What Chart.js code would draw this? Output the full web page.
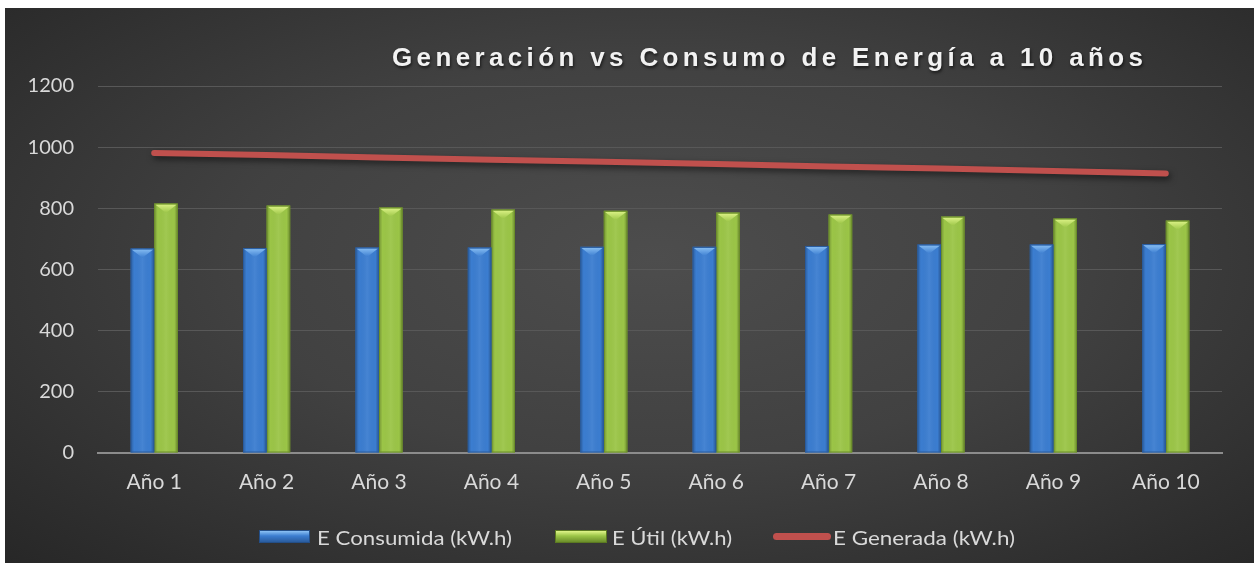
<!DOCTYPE html>
<html>
<head>
<meta charset="utf-8">
<script src="https://cdn.jsdelivr.net/npm/chart.js@4.4.1/dist/chart.umd.min.js"></script>
<style>
  html, body { margin:0; padding:0; background:#ffffff; width:1259px; height:570px; overflow:hidden; }
  #frame { position:absolute; left:5px; top:8px; width:1249px; height:555px;
    background: radial-gradient(ellipse 75% 80% at 52% 45%, #4d4d4d 0%, #414141 45%, #2d2d2d 85%, #262626 100%); }
  #c { position:absolute; left:0; top:0; }
  #legend { position:absolute; left:0; top:0; width:1249px; height:555px; pointer-events:none;
    font-family: Lato, "Open Sans", sans-serif; font-size:20px; color:#d9d9d9; }
  .li { position:absolute; top:516px; height:26px; line-height:26px; white-space:nowrap; }
  .bx { position:absolute; }
  .tx { position:absolute; top:0; display:inline-block; transform-origin:left center; }
</style>
</head>
<body>
<div id="frame">
  <canvas id="c" width="1249" height="555"></canvas>
  <div id="legend"></div>
</div>
<script>
const categories = ["Año 1","Año 2","Año 3","Año 4","Año 5","Año 6","Año 7","Año 8","Año 9","Año 10"];
const eConsumida = [669, 670, 672, 672, 674, 674, 677, 682, 682, 683];
const eUtil      = [816, 809, 803, 796, 792, 786, 780, 773, 767, 760];
const eGenerada  = [981, 974, 966, 959, 952, 945, 937, 930, 922, 914];
const yTicks = [0, 200, 400, 600, 800, 1000, 1200];
const seriesNames = ["E Consumida (kW.h)", "E Útil (kW.h)", "E Generada (kW.h)"];
const titleText = "Generación vs Consumo de Energía a 10 años";

const BLUE = "#3b7dd0", BLUE_D = "#2a5c9e", BLUE_L = "#8cc2f5";
const GREEN = "#9bc547", GREEN_D = "#6b8e2a", GREEN_L = "#e0f58a";
const RED = "#c0504d";

const bevelPlugin = {
  id: 'bevel',
  afterDatasetDraw(chart, args) {
    const meta = args.meta;
    if (meta.type !== 'bar') return;
    const ctx = chart.ctx;
    const dark = args.index === 0 ? BLUE_D : GREEN_D;
    const light = args.index === 0 ? BLUE_L : GREEN_L;
    const base_c = args.index === 0 ? BLUE : GREEN;
    meta.data.forEach(el => {
      const w = el.width, x0 = el.x - w/2, x1 = el.x + w/2, top = el.y, base = el.base;
      ctx.save();
      const g = ctx.createLinearGradient(x0, 0, x1, 0);
      g.addColorStop(0, 'rgba(0,0,0,0.25)');
      g.addColorStop(0.15, 'rgba(0,0,0,0.0)');
      g.addColorStop(0.5, 'rgba(255,255,255,0.06)');
      g.addColorStop(0.85, 'rgba(0,0,0,0.0)');
      g.addColorStop(1, 'rgba(0,0,0,0.3)');
      ctx.fillStyle = g;
      ctx.fillRect(x0, top, w, base - top);
      const h = w * 0.4;
      const tg = ctx.createLinearGradient(0, top, 0, top + h);
      tg.addColorStop(0, light);
      tg.addColorStop(1, base_c);
      ctx.fillStyle = tg;
      ctx.beginPath();
      ctx.moveTo(x0 + 1, top + 1);
      ctx.lineTo(x1 - 1, top + 1);
      ctx.lineTo(el.x, top + h);
      ctx.closePath();
      ctx.fill();
      ctx.strokeStyle = dark;
      ctx.lineWidth = 1;
      ctx.strokeRect(x0 + 0.5, top + 0.5, w - 1, base - top - 1);
      ctx.restore();
    });
  }
};

const shadowPlugin = {
  id: 'lineShadow',
  beforeDatasetDraw(chart, args) {
    if (args.meta.type === 'line') {
      const ctx = chart.ctx;
      ctx.save();
      ctx.shadowColor = 'rgba(0,0,0,0.55)';
      ctx.shadowBlur = 6;
      ctx.shadowOffsetX = 2;
      ctx.shadowOffsetY = 3;
    }
  },
  afterDatasetDraw(chart, args) {
    if (args.meta.type === 'line') chart.ctx.restore();
  }
};

const titlePlugin = {
  id: 'customTitle',
  afterDraw(chart) {
    const ctx = chart.ctx;
    ctx.save();
    ctx.font = 'bold 26px "Liberation Sans", Arial, sans-serif';
    ctx.letterSpacing = '0px';
    const w0 = ctx.measureText(titleText).width;
    const target = 751;
    const sp = (target - w0) / (titleText.length - 1);
    ctx.letterSpacing = sp.toFixed(2) + 'px';
    ctx.fillStyle = '#f2f2f2';
    ctx.textBaseline = 'alphabetic';
    ctx.textAlign = 'left';
    ctx.shadowColor = 'rgba(0,0,0,0.6)';
    ctx.shadowBlur = 3;
    ctx.shadowOffsetX = 1;
    ctx.shadowOffsetY = 2;
    ctx.fillText(titleText, 387, 58);
    ctx.restore();
  }
};

const chart = new Chart(document.getElementById('c'), {
  type: 'bar',
  data: {
    labels: categories,
    datasets: [
      { label: seriesNames[0], data: eConsumida, backgroundColor: BLUE, borderWidth: 0,
        categoryPercentage: 0.42, barPercentage: 1.0, order: 1 },
      { label: seriesNames[1], data: eUtil, backgroundColor: GREEN, borderWidth: 0,
        categoryPercentage: 0.42, barPercentage: 1.0, order: 1 },
      { type: 'line', label: seriesNames[2], data: eGenerada, borderColor: RED, backgroundColor: RED,
        borderWidth: 6, pointRadius: 0, borderCapStyle: 'round', tension: 0, order: 0 }
    ]
  },
  options: {
    responsive: false,
    animation: false,
    devicePixelRatio: 1,
    layout: { padding: { left: 0, right: 32, top: 78, bottom: 0 } },
    plugins: {
      legend: { display: false },
      title: { display: false },
      tooltip: { enabled: false }
    },
    scales: {
      x: {
        grid: { display: false, drawTicks: false },
        border: { display: true, color: '#8c8c8c', width: 2 },
        ticks: { color: '#d9d9d9', font: { family: 'Lato, "Open Sans", sans-serif', size: 21 }, padding: 17, maxRotation: 0 },
        afterFit: s => { s.height = 110; }
      },
      y: {
        min: 0, max: 1200,
        afterBuildTicks: s => { s.ticks = yTicks.map(v => ({ value: v })); },
        grid: { color: '#585858', lineWidth: 1, drawTicks: false, tickLength: 0 },
        border: { display: false },
        ticks: { color: '#d9d9d9', font: { family: 'Lato, "Open Sans", sans-serif', size: 20 }, padding: 24,
                 callback: v => String(v) },
        afterFit: s => { s.width = 93; }
      }
    }
  },
  plugins: [bevelPlugin, shadowPlugin, titlePlugin]
});

// HTML legend (positions in frame coordinates)
const legend = document.getElementById('legend');
const items = [
  { boxLeft: 254, boxTop: 522, boxW: 51, boxH: 13, textLeft: 312, tw: 195, name: seriesNames[0],
    style: 'background:linear-gradient(#8cc2f5,#3b7dd0 45%,#2a5c9e);border:1px solid #244f88;box-sizing:border-box;' },
  { boxLeft: 550, boxTop: 522, boxW: 52, boxH: 13, textLeft: 607, tw: 120, name: seriesNames[1],
    style: 'background:linear-gradient(#e0f58a,#9bc547 45%,#6b8e2a);border:1px solid #5c7a22;box-sizing:border-box;' },
  { boxLeft: 768, boxTop: 525, boxW: 58, boxH: 7, textLeft: 828, tw: 182, name: seriesNames[2],
    style: 'background:' + RED + ';border-radius:4px;' }
];
items.forEach(it => {
  const b = document.createElement('div');
  b.className = 'bx';
  b.style.cssText = `position:absolute;left:${it.boxLeft}px;top:${it.boxTop}px;width:${it.boxW}px;height:${it.boxH}px;` + it.style;
  legend.appendChild(b);
  const t = document.createElement('span');
  t.className = 'tx';
  t.textContent = it.name;
  t.style.cssText = `position:absolute;left:${it.textLeft}px;top:516px;line-height:26px;white-space:nowrap;transform-origin:left center;`;
  legend.appendChild(t);
  const w = t.getBoundingClientRect().width;
  t.style.transform = `scaleX(${(it.tw / w).toFixed(3)})`;
});
</script>
</body>
</html>
